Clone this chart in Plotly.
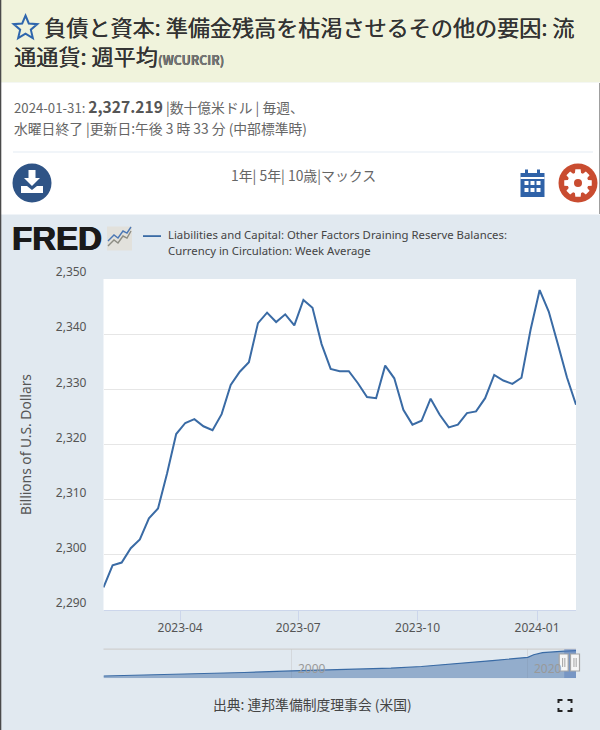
import math
import datetime as dt
import plotly.graph_objects as go

# ---------- data ----------
week_start = "2023-02-01"
week_values = [
    2294.1, 2298.1, 2298.6, 2301.2, 2302.8, 2306.6, 2308.4, 2314.8, 2321.9, 2323.9,
    2324.6, 2323.3, 2322.6, 2325.5, 2330.8, 2333.2, 2334.9, 2342.0, 2343.9, 2342.2,
    2343.6, 2341.6, 2346.2, 2344.8, 2338.2, 2333.7, 2333.3, 2333.3, 2331.1, 2328.6,
    2328.4, 2334.3, 2332.0, 2326.3, 2323.6, 2324.3, 2328.3, 2325.4, 2323.1, 2323.6,
    2325.7, 2326.0, 2328.4, 2332.6, 2331.6, 2331.0, 2332.1, 2340.8, 2348.0, 2344.1,
    2338.2, 2332.2, 2327.219,
]
nav_dates = ["1984-02-01", "1988-01-01", "1992-01-01", "1996-01-01", "2000-01-01", "2004-01-01",
             "2008-06-01", "2011-01-01", "2014-01-01", "2017-01-01", "2020-01-01", "2020-07-01",
             "2021-04-01", "2022-01-01", "2023-02-01", "2024-01-31"]
nav_values = [170, 250, 340, 470, 600, 720, 835, 980, 1200, 1480, 1757, 1980,
              2160, 2230, 2290, 2327]
y_ticks = [2290, 2300, 2310, 2320, 2330, 2340, 2350]
nav_years = ["2000", "2020"]

d0 = dt.date.fromisoformat(week_start)
week_dates = [(d0 + dt.timedelta(days=7 * i)).isoformat() for i in range(len(week_values))]

# ---------- helpers (page pixels -> paper) ----------
W, H = 600, 730
def X(px): return px / W
def Y(py): return 1 - py / H
def P(pts, close=True):
    s = "M" + " L".join(f"{X(a):.5f},{Y(b):.5f}" for a, b in pts)
    return s + (" Z" if close else "")
def rect(x0, y0, x1, y1, fill, layer="below", line=None, lw=0):
    return dict(type="rect", xref="paper", yref="paper", x0=X(x0), x1=X(x1), y0=Y(y0), y1=Y(y1),
                fillcolor=fill, line=dict(color=line or fill, width=lw), layer=layer)
def poly(pts, fill=None, line=None, lw=0, close=True, layer="above"):
    return dict(type="path", xref="paper", yref="paper", path=P(pts, close),
                fillcolor=fill if fill else "rgba(0,0,0,0)",
                line=dict(color=line or "rgba(0,0,0,0)", width=lw), layer=layer)
def circle(cx, cy, r, fill, layer="above"):
    return dict(type="circle", xref="paper", yref="paper", x0=X(cx - r), x1=X(cx + r),
                y0=Y(cy + r), y1=Y(cy - r), fillcolor=fill, line=dict(width=0), layer=layer)
def text(px, py, s, size=13.8, color="#666666", anchor="left", family="Noto Sans CJK JP, Noto Sans", **kw):
    return dict(xref="paper", yref="paper", x=X(px), y=Y(py), text=s, showarrow=False,
                xanchor=anchor, yanchor="middle", align="left", borderpad=0,
                font=dict(size=size, color=color, family=family, **kw))

PL, PR, PT, PB = 103.5, 576, 279, 610
NT, NB = 649, 678
shapes, notes = [], []

# page bands
shapes += [rect(0, 0, 600, 82.5, "#f0f3dc"), rect(0, 82.5, 600, 214.5, "#ffffff"),
           rect(13, 151.5, 593, 152.5, "#e4ecf3"), rect(PL, PT, PR, PB, "#ffffff"),
           rect(0, 0, 1.3, 730, "#4a4a4a"), rect(599.3, 83, 600, 214, "#777777")]

# star
star = []
for i in range(10):
    r = 12.5 if i % 2 == 0 else 5.6
    a = -math.pi / 2 + i * math.pi / 5
    star.append((25.5 + r * math.cos(a), 28 + r * math.sin(a)))
shapes.append(poly(star, line="#2f66ad", lw=2))

# download icon
shapes.append(circle(32, 183, 19.5, "#2f5486"))
shapes.append(poly([(28.5, 170), (35.5, 170), (35.5, 178), (40, 178), (32, 186), (24, 178), (28.5, 178)], fill="#ffffff"))
shapes.append(poly([(21, 186), (27, 186), (32, 190), (37, 186), (43, 186), (43, 193), (21, 193)], fill="#ffffff"))

# calendar icon
shapes += [rect(520.5, 173, 544.5, 197, "#2f62a8", "above"), rect(525, 169.5, 528, 176, "#2f62a8", "above"),
           rect(537, 169.5, 540, 176, "#2f62a8", "above"), rect(520.5, 177, 544.5, 179, "#ffffff", "above")]
for cy in (183, 190):
    for cx in (524.5, 530.5, 536.5):
        shapes.append(rect(cx, cy - 2, cx + 4, cy + 2, "#ffffff", "above"))

# gear icon
shapes.append(circle(578, 183, 19.5, "#c94c30"))
gear = []
for i in range(8):
    c = i * math.pi / 4 - math.pi / 2
    for off, r in ((-0.30, 10.5), (-0.19, 14), (0.19, 14), (0.30, 10.5)):
        gear.append((578 + r * math.cos(c + off), 183 + r * math.sin(c + off)))
shapes.append(poly(gear, fill="#ffffff"))
shapes.append(circle(578, 183, 4, "#c94c30"))

# FRED mini chart icon
shapes.append(rect(107, 226.5, 132, 250.5, "#e2e1dc", "above"))
shapes.append(poly([(108, 246), (114, 240), (118, 243), (123, 236), (127, 238), (131, 231)], line="#8d8d84", lw=1.4, close=False))
shapes.append(poly([(108, 241), (114, 235), (118, 238), (123, 231), (127, 233), (131, 227)], line="#4c78b5", lw=1.4, close=False))

# legend sample line
shapes.append(rect(143, 235.2, 161, 237, "#3a6ba5", "above"))

# navigator frame and handles
shapes += [rect(PL, NT - 0.5, PR, NT + 0.7, "#cfcfcf"), rect(PL, NB - 0.3, PR, NB + 0.3, "#d5dde6")]
shapes.append(dict(type="rect", xref="x2", yref="paper", x0="2023-02-01", x1="2024-01-31",
                   y0=Y(NB), y1=Y(NT), fillcolor="rgba(80,120,185,0.42)", line=dict(width=0), layer="above"))
for x0 in (559.2, 570.5):
    shapes.append(rect(x0, 654, x0 + 9, 671, "#f6f6f6", "above", "#a6a6a6", 1.2))
    shapes.append(rect(x0 + 3, 658, x0 + 3.9, 667, "#9a9a9a", "above"))
    shapes.append(rect(x0 + 5.2, 658, x0 + 6.1, 667, "#9a9a9a", "above"))

# fullscreen icon
for pts in ([(558.5, 703), (558.5, 700), (562.5, 700)], [(567.5, 700), (571.5, 700), (571.5, 703)],
            [(558.5, 708), (558.5, 711), (562.5, 711)], [(567.5, 711), (571.5, 711), (571.5, 708)]):
    shapes.append(poly(pts, line="#222222", lw=2, close=False))

# page text
thick = "0.35px 0 0 #333333"
notes.append(text(43, 26.5, "負債と資本: 準備金残高を枯渇させるその他の要因: 流", 22.1, "#333333", shadow=thick))
notes.append(text(13, 55.5, '通通貨: 週平均<span style="font-size:12.3px;color:#777777"><b>(WCURCIR)</b></span>', 22.1, "#333333", shadow=thick))
notes.append(text(13, 106, '<span style="font-size:13.2px">2024-01-31: </span><span style="font-size:15.6px;color:#555555"><b>2,327.219</b></span> |数十億米ドル | 毎週、', 13.8))
notes.append(text(13, 128, "水曜日終了 |更新日:午後 3 時 33 分 (中部標準時)", 13.8))
notes.append(text(303, 175, "1年| 5年| 10歳|マックス", 13.9, anchor="center"))
notes.append(text(312.5, 704, "出典: 連邦準備制度理事会 (米国)", 13.8, "#444444", anchor="center"))
notes.append(text(11, 238, "FRED", 33, "#1a1a1a", family="Liberation Sans", weight=700,
                  shadow="0.7px 0 0 #1a1a1a, -0.4px 0 0 #1a1a1a"))
notes.append(text(167, 235, "Liabilities and Capital: Other Factors Draining Reserve Balances:", 11.35, "#444444", family="Noto Sans"))
notes.append(text(167, 251, "Currency in Circulation: Week Average", 11.35, "#444444", family="Noto Sans"))
for yr in nav_years:
    notes.append(dict(xref="x2", yref="paper", x=f"{yr}-01-01", y=Y(668), text=yr, showarrow=False,
                      xanchor="left", yanchor="middle", xshift=4,
                      font=dict(size=12, color="#999999", family="Noto Sans")))

fig = go.Figure()
fig.add_trace(go.Scatter(x=week_dates, y=week_values, mode="lines", xaxis="x", yaxis="y",
                         line=dict(color="#3a6ba5", width=2), showlegend=False,
                         name="Liabilities and Capital: Other Factors Draining Reserve Balances: Currency in Circulation: Week Average"))
fig.add_trace(go.Scatter(x=nav_dates, y=nav_values, mode="lines", xaxis="x2", yaxis="y2", fill="tozeroy",
                         fillcolor="rgba(69,114,167,0.5)", line=dict(color="#3a6ba5", width=1.2), showlegend=False))

tick_font = dict(size=12, color="#555555", family="Noto Sans")
fig.update_layout(
    width=W, height=H, margin=dict(l=0, r=0, t=0, b=0), autosize=False,
    paper_bgcolor="#e1e9f0", plot_bgcolor="rgba(0,0,0,0)",
    shapes=shapes, annotations=notes, hovermode=False, showlegend=False,
    xaxis=dict(domain=[X(PL), X(PR)], range=[week_dates[0], week_dates[-1]], anchor="y", type="date", automargin=False,
               tick0="2023-01-01", dtick="M3", tickformat="%Y-%m", ticks="outside", ticklen=10,
               ticklabelstandoff=-3,
               tickcolor="#ccd6eb", showgrid=False, showline=True, linecolor="#ccd6eb", tickfont=tick_font),
    yaxis=dict(domain=[Y(PB), Y(PT)], range=[2290, 2350], anchor="x", tickvals=y_ticks, tickformat=",d", automargin=False,
               gridcolor="#e6e6e6", gridwidth=1, zeroline=False, showline=False, ticks="", tickfont=tick_font,
               ticklabelstandoff=16, ticklabelshift=-7,
               title=dict(text="Billions of U.S. Dollars", standoff=20,
                          font=dict(size=13.8, color="#555555", family="Noto Sans"))),
    xaxis2=dict(domain=[X(PL), X(PR)], range=["1984-02-01", "2024-01-31"], anchor="y2", type="date", automargin=False,
                tickvals=[f"{y}-01-01" for y in nav_years], showticklabels=False, ticks="",
                showgrid=True, gridcolor="rgba(200,200,200,0.5)", showline=False, zeroline=False),
    yaxis2=dict(domain=[Y(NB), Y(NT)], range=[0, 2470], anchor="x2", visible=False, showgrid=False, automargin=False),
)
fig.write_html("out.html", config=dict(displayModeBar=False, staticPlot=True),
               post_script="document.body.style.margin='0';document.documentElement.style.overflow='hidden';")
